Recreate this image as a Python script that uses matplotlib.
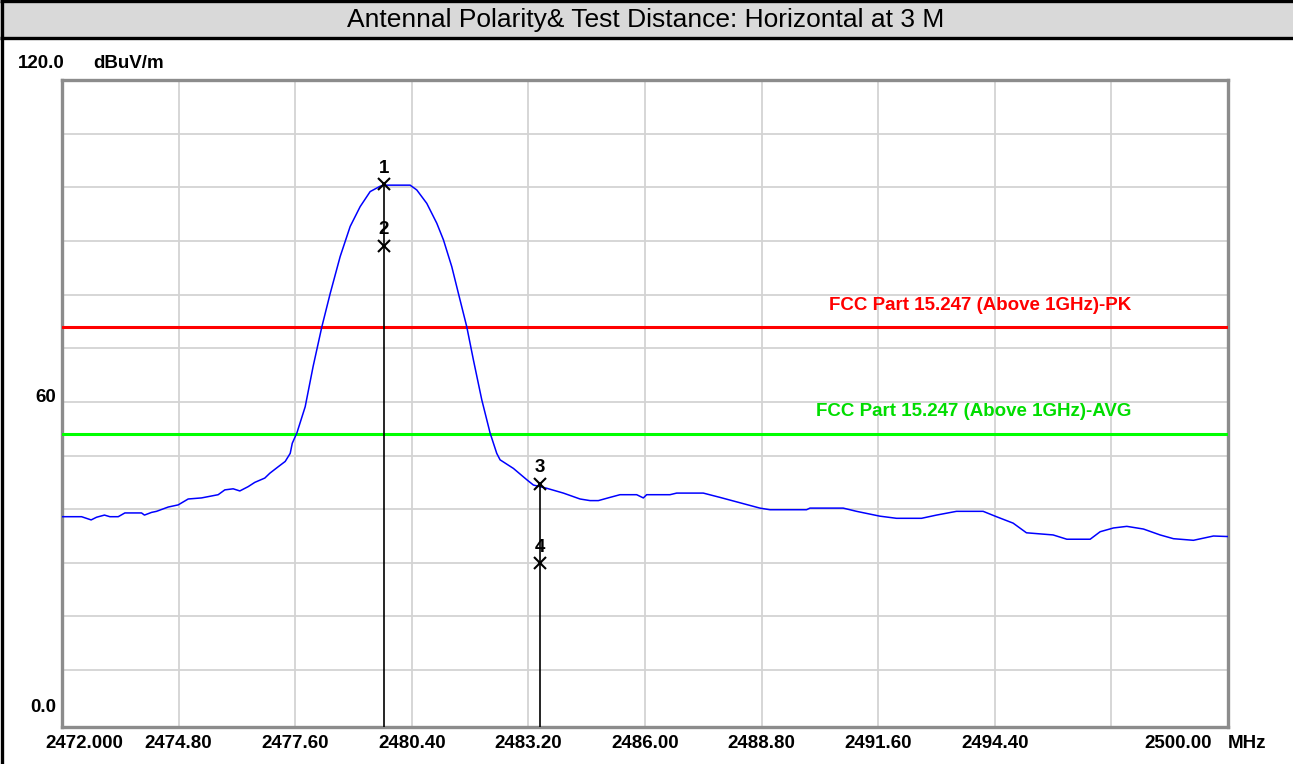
import numpy as np
import matplotlib.pyplot as plt
from matplotlib.patches import Rectangle
from matplotlib.lines import Line2D

# Trace (MHz, dBuV/m)
freq = [2472.00, 2472.47, 2472.70, 2472.83, 2473.02, 2473.15, 2473.35, 2473.51,
        2473.91, 2473.98, 2474.15, 2474.27, 2474.55, 2474.79, 2475.03, 2475.35,
        2475.75, 2475.91, 2476.11, 2476.27, 2476.47, 2476.63, 2476.87, 2476.99,
        2477.19, 2477.36, 2477.48, 2477.53, 2477.64, 2477.84, 2478.03, 2478.24,
        2478.44, 2478.68, 2478.92, 2479.16, 2479.40, 2479.64, 2479.76, 2480.36,
        2480.52, 2480.76, 2481.00, 2481.16, 2481.36, 2481.52, 2481.72, 2481.88,
        2482.08, 2482.28, 2482.44, 2482.52, 2482.84, 2483.16, 2483.32, 2483.64,
        2484.04, 2484.44, 2484.68, 2484.88, 2485.16, 2485.40, 2485.80, 2485.96,
        2486.04, 2486.60, 2486.76, 2487.40, 2487.80, 2488.28, 2488.76, 2489.00,
        2489.88, 2489.96, 2490.76, 2491.08, 2491.64, 2492.04, 2492.64, 2493.00,
        2493.48, 2494.12, 2494.44, 2494.84, 2495.16, 2495.80, 2496.13, 2496.69,
        2496.93, 2497.25, 2497.57, 2497.97, 2498.37, 2498.69, 2499.17, 2499.41,
        2499.65, 2500.00]
level = [38.6, 38.6, 38.0, 38.5, 38.9, 38.6, 38.6, 39.3,
         39.3, 38.9, 39.4, 39.6, 40.4, 40.8, 41.9, 42.1,
         42.7, 43.6, 43.8, 43.4, 44.2, 45.0, 45.8, 46.7,
         47.9, 48.9, 50.4, 52.3, 54.2, 59.1, 66.6, 74.0,
         80.2, 87.1, 92.7, 96.4, 99.2, 100.2, 100.4, 100.4,
         99.5, 97.0, 93.3, 90.2, 85.2, 80.2, 74.0, 67.8,
         60.4, 54.2, 50.4, 49.2, 47.6, 45.5, 44.5, 43.9,
         43.0, 41.9, 41.6, 41.6, 42.2, 42.7, 42.7, 42.1,
         42.7, 42.7, 43.0, 43.0, 42.2, 41.2, 40.2, 39.9,
         39.9, 40.2, 40.2, 39.6, 38.7, 38.3, 38.3, 38.9,
         39.6, 39.6, 38.6, 37.4, 35.6, 35.2, 34.4, 34.4,
         35.8, 36.5, 36.8, 36.3, 35.2, 34.5, 34.2, 34.6,
         35.0, 34.9]

marker_ids = ['1', '2', '3', '4']
marker_freq = [2479.73, 2479.73, 2483.48, 2483.48]
marker_level = [100.6, 89.1, 44.7, 29.9]

limit_pk = 74.0
limit_avg = 54.0
limit_pk_label = 'FCC Part 15.247 (Above 1GHz)-PK'
limit_avg_label = 'FCC Part 15.247 (Above 1GHz)-AVG'

x_grid = [2472.0 + 2.8 * i for i in range(11)]
x_labels = ['', '2474.80', '2477.60', '2480.40', '2483.20', '2486.00',
            '2488.80', '2491.60', '2494.40', '', '']
y_grid = list(range(10, 120, 10))

title = 'Antennal Polarity& Test Distance: Horizontal at 3 M'

W, H = 1293, 764
fig = plt.figure(figsize=(W / 100, H / 100), dpi=100)


def px(x, y):
    return x / W, 1 - y / H


# header band and table borders
fig.patches.append(Rectangle(px(0, 37), 1, 35 / H, transform=fig.transFigure,
                             facecolor='#d9d9d9', edgecolor='none', zorder=0))
for (x0, y0), (x1, y1) in [((0, 1), (W + 5, 1)), ((0, 37.5), (W + 5, 37.5)), ((1.5, 0), (1.5, H))]:
    a, b = px(x0, y0)
    c, d = px(x1, y1)
    fig.add_artist(Line2D([a, c], [b, d], transform=fig.transFigure, color='black',
                          lw=2.4, solid_capstyle='butt'))
fig.text(*px(646, 20), title, ha='center', va='center', fontsize=19,
         family='Liberation Sans', color='black')

l, b = px(62, 727)
r, t = px(1228, 80)
ax = fig.add_axes([l, b, r - l, t - b])
ax.set_xlim(2472.0, 2500.0)
ax.set_ylim(-0.6, 120)

ax.set_xticks(x_grid)
ax.set_xticklabels(x_labels)
ax.set_yticks(y_grid)
ax.set_yticklabels([])
ax.tick_params(length=0, pad=6)
for lab in ax.get_xticklabels():
    lab.set_fontfamily('Liberation Sans')
    lab.set_fontweight('bold')
    lab.set_fontsize(13.5)
ax.grid(True, color='#d3d3d3', lw=1.3)
for s in ax.spines.values():
    s.set_color('#8c8c8c')
    s.set_linewidth(2.4)

ax.axhline(limit_pk, color='#ff0000', lw=2.2, zorder=3)
ax.axhline(limit_avg, color='#00ff00', lw=2.2, zorder=3)
lab_font = dict(family='Liberation Sans', weight='bold', fontsize=13.5, ha='right', va='center')
ax.text(2497.67, limit_pk + 3.9, limit_pk_label, color='#ff0000', **lab_font)
ax.text(2497.67, limit_avg + 4.2, limit_avg_label, color='#00dd00', **lab_font)

ax.plot(freq, level, color='#0000ff', lw=1.1, zorder=4)

for mid, mf, ml in zip(marker_ids, marker_freq, marker_level):
    ax.plot(mf, ml, marker='x', color='black', ms=8, mew=1.5, zorder=6)
    ax.text(mf, ml + 1.4, mid, ha='center', va='bottom', fontsize=13.5,
            family='Liberation Sans', weight='bold', zorder=6)
for mf, ml in zip(marker_freq[::2], marker_level[::2]):
    ax.plot([mf, mf], [ml, -0.6], color='black', lw=1.2, zorder=5)

tick_font = dict(family='Liberation Sans', weight='bold', fontsize=13.5, va='center')
fig.text(*px(18, 63), '120.0', ha='left', **tick_font)
fig.text(*px(93, 63), 'dBuV/m', ha='left', **tick_font)
fig.text(*px(56, 398), '60', ha='right', **tick_font)
fig.text(*px(56, 708), '0.0', ha='right', **tick_font)
fig.text(*px(45, 743), '2472.000', ha='left', **tick_font)
fig.text(*px(1212, 743), '2500.00', ha='right', **tick_font)
fig.text(*px(1228, 743), 'MHz', ha='left', **tick_font)

fig.savefig('out.png', dpi=100)
